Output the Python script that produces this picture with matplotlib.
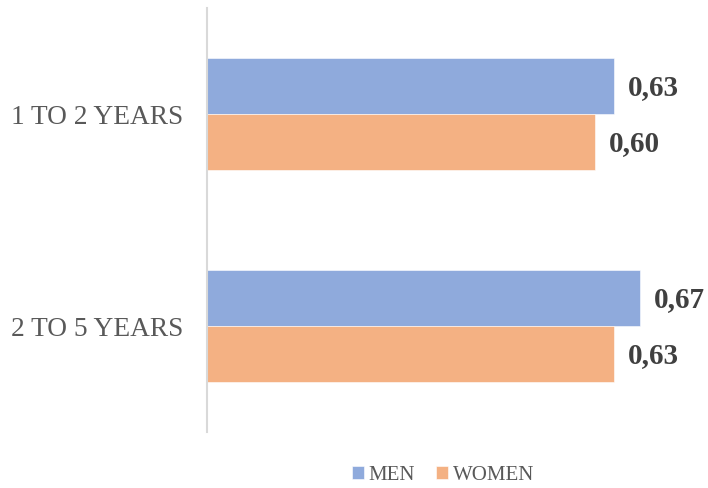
import numpy as np
import matplotlib
matplotlib.use('Agg')
import matplotlib.pyplot as plt

# data
categories = ['1 TO 2 YEARS', '2 TO 5 YEARS']
men = [0.63, 0.67]
women = [0.60, 0.63]
series_names = ['MEN', 'WOMEN']
colors = ['#8FAADC', '#F4B183']

plt.rcParams['font.family'] = ['Liberation Serif', 'DejaVu Serif']

fig = plt.figure(figsize=(7.08, 4.88), dpi=100)
ax = fig.add_axes([207 / 708, 56 / 488, 485 / 708, 424 / 488])

y = np.arange(len(categories))
h = 0.264
b1 = ax.barh(y - h / 2, men, height=h, color=colors[0], label=series_names[0],
             edgecolor='white', linewidth=0.4)
b2 = ax.barh(y + h / 2, women, height=h, color=colors[1], label=series_names[1],
             edgecolor='white', linewidth=0.4)

for bars, vals in [(b1, men), (b2, women)]:
    for bar, v in zip(bars, vals):
        ax.annotate('{:.2f}'.format(v).replace('.', ','),
                    xy=(v, bar.get_y() + bar.get_height() / 2),
                    xytext=(10, -1), textcoords='offset points',
                    ha='left', va='center', fontsize=21, fontweight='bold',
                    color='#404040')

ax.set_xlim(0, 0.75)
ax.set_ylim(1.5, -0.5)
ax.set_yticks(y)
ax.set_yticklabels(categories, fontsize=19.7, color='#595959')
ax.tick_params(axis='y', length=0, pad=17)
ax.set_xticks([])
for s in ['top', 'right', 'bottom']:
    ax.spines[s].set_visible(False)
ax.spines['left'].set_color('#D9D9D9')
ax.spines['left'].set_linewidth(1.5)

leg = fig.legend(handles=[b1, b2], labels=series_names, loc='center',
                 bbox_to_anchor=(443 / 708, 1 - 475 / 488), ncol=2,
                 frameon=False, fontsize=15, handlelength=0.6, handleheight=0.6,
                 handletextpad=0.2, columnspacing=1.0)
for t in leg.get_texts():
    t.set_color('#595959')

fig.savefig('out.png', dpi=100)
